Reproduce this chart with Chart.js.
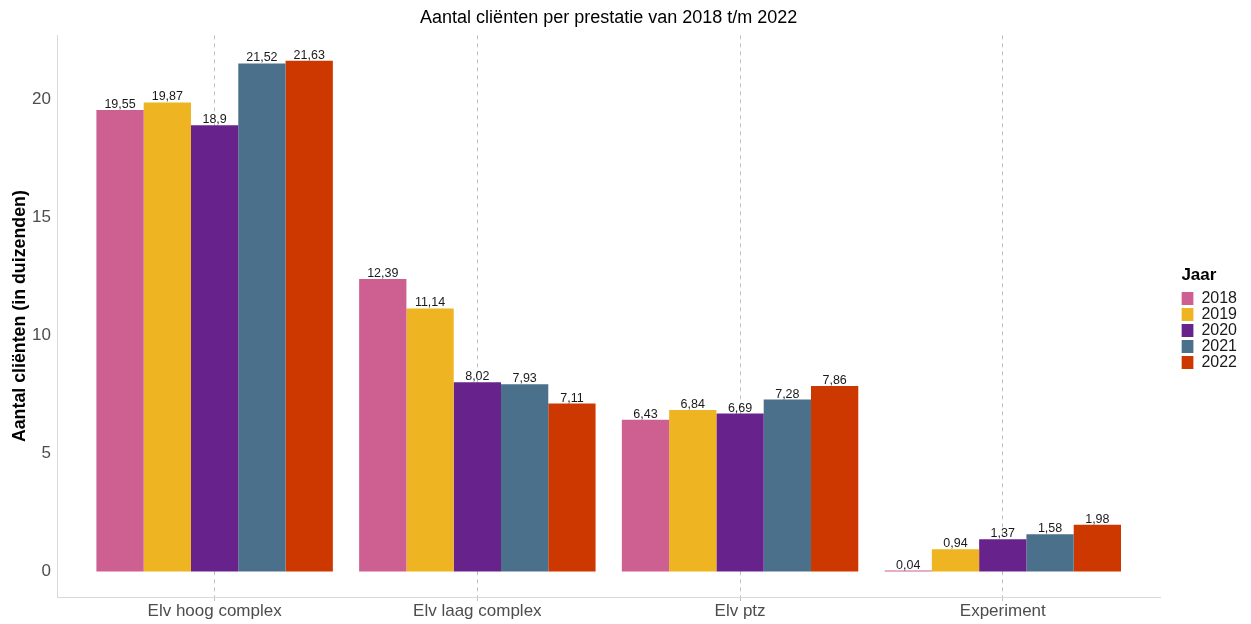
<!DOCTYPE html>
<html>
<head>
<meta charset="utf-8">
<script src="https://cdn.jsdelivr.net/npm/chart.js@4/dist/chart.umd.min.js"></script>
<style>
  body { margin: 0; background: #fff; }
  #wrap { width: 1251px; height: 624px; position: relative; }
</style>
</head>
<body>
<div id="wrap"><canvas id="prestatieChart"></canvas></div>
<script>
const categories = ['Elv hoog complex', 'Elv laag complex', 'Elv ptz', 'Experiment'];
const years = ['2018', '2019', '2020', '2021', '2022'];
const values2018 = [19.55, 12.39, 6.43, 0.04];
const values2019 = [19.87, 11.14, 6.84, 0.94];
const values2020 = [18.9, 8.02, 6.69, 1.37];
const values2021 = [21.52, 7.93, 7.28, 1.58];
const values2022 = [21.63, 7.11, 7.86, 1.98];
const yTicks = [0, 5, 10, 15, 20];
const colors = ['#CD6090', '#EEB422', '#68228B', '#4A708B', '#CD3700'];

const allValues = [values2018, values2019, values2020, values2021, values2022];
const font = "'Liberation Sans', Arial, sans-serif";

// labels with value above each bar, dutch decimal comma
const barLabels = {
  id: 'barLabels',
  afterDatasetsDraw(chart) {
    const ctx = chart.ctx;
    ctx.save();
    ctx.font = '12.5px ' + font;
    ctx.fillStyle = '#1a1a1a';
    ctx.textAlign = 'center';
    ctx.textBaseline = 'alphabetic';
    chart.data.datasets.forEach((ds, i) => {
      chart.getDatasetMeta(i).data.forEach((bar, j) => {
        const txt = String(ds.data[j].y).replace('.', ',');
        ctx.fillText(txt, bar.x, bar.y - 2);
      });
    });
    ctx.restore();
  }
};

// push legend a bit away from the plot, like ggplot does
const legendGap = {
  id: 'legendGap',
  afterLayout(chart) {
    chart.legend.left += 21;
    chart.legend.right += 21;
  }
};

const ctx = document.getElementById('prestatieChart').getContext('2d');

new Chart(ctx, {
  type: 'bar',
  data: {
    datasets: years.map((yr, i) => ({
      label: yr,
      data: allValues[i].map((v, j) => ({ x: j + 1, y: v })),
      backgroundColor: colors[i],
      borderWidth: 0,
      categoryPercentage: 0.9,
      barPercentage: 1
    }))
  },
  options: {
    responsive: true,
    maintainAspectRatio: false,
    animation: false,
    layout: { padding: { left: 0, right: 25, top: 0, bottom: 0 } },
    plugins: {
      tooltip: { enabled: false },
      title: {
        display: true,
        fullSize: false,
        text: 'Aantal cliënten per prestatie van 2018 t/m 2022',
        color: '#000',
        font: { family: font, size: 18, weight: 'normal' },
        padding: { top: 7.7, bottom: 6 }
      },
      legend: {
        position: 'right',
        align: 'center',
        title: {
          display: true,
          text: 'Jaar',
          position: 'start',
          color: '#000',
          font: { family: font, size: 17, weight: 'bold' },
          padding: { top: 13, bottom: 3.6 }
        },
        labels: {
          boxWidth: 12,
          boxHeight: 13,
          padding: 0,
          color: '#1a1a1a',
          font: { family: font, size: 16 }
        }
      }
    },
    scales: {
      x: {
        type: 'linear',
        offset: false,
        min: 0.4,
        max: 4.6,
        afterBuildTicks: scale => { scale.ticks = categories.map((c, i) => ({ value: i + 1 })); },
        afterFit: scale => { scale.height = 27; },
        grid: { offset: false, color: '#bfbfbf', lineWidth: 1, tickLength: 4, drawTicks: true },
        border: { display: true, color: '#d9d9d9', width: 1, dash: [4, 4] },
        ticks: {
          padding: 0,
          maxRotation: 0,
          autoSkip: false,
          color: '#4d4d4d',
          font: { family: font, size: 17 },
          callback: value => categories[Math.round(value) - 1]
        }
      },
      y: {
        min: -1.0815,
        max: 22.7115,
        afterBuildTicks: scale => { scale.ticks = yTicks.map(v => ({ value: v })); },
        afterFit: scale => { scale.width = 57; },
        grid: { display: false, drawTicks: false },
        border: { display: true, color: '#d9d9d9', width: 1 },
        ticks: {
          padding: 6,
          color: '#4d4d4d',
          font: { family: font, size: 17 }
        },
        title: {
          display: true,
          text: 'Aantal cliënten (in duizenden)',
          color: '#000',
          font: { family: font, size: 17.8, weight: 'bold' },
          padding: { top: 9.3, bottom: 0 }
        }
      }
    }
  },
  plugins: [barLabels, legendGap]
});
</script>
</body>
</html>
